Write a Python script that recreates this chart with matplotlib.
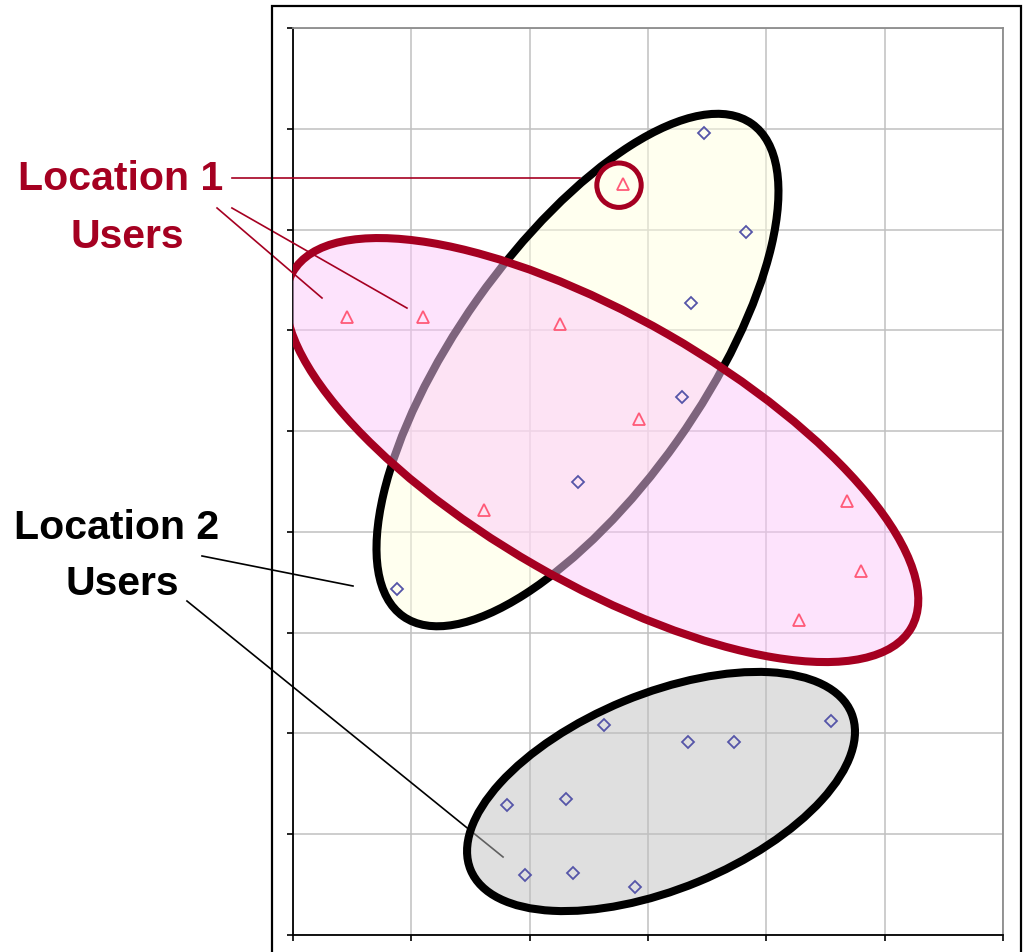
import numpy as np
import matplotlib
matplotlib.use("Agg")
import matplotlib.pyplot as plt
from matplotlib.patches import Ellipse, Rectangle
from matplotlib.transforms import Affine2D

# ── data ────────────────────────────────────────────────────────────────────
loc2_x = [3.47, 3.83, 3.36, 3.29, 2.41, 0.88, 2.63, 3.34, 3.73, 4.55, 1.81, 2.31, 1.96, 2.37, 2.89]
loc2_y = [7.96, 6.98, 6.27, 5.34, 4.50, 3.43, 2.08, 1.92, 1.92, 2.12, 1.29, 1.35, 0.60, 0.62, 0.48]

loc1_x = [2.79, 0.46, 1.10, 2.26, 2.92, 1.61, 4.68, 4.80, 4.28]
loc1_y = [7.45, 6.13, 6.13, 6.06, 5.12, 4.22, 4.31, 3.61, 3.13]

X_TICKS = list(range(0, 7))
Y_TICKS = list(range(0, 10))

# cluster ellipses: centre (data), width / height (x-units), angle (deg)
ell_centers = [(2.404, 5.606), (2.611, 4.812), (3.110, 1.424)]
ell_widths  = [5.10, 6.03, 3.48]
ell_heights = [2.07, 2.25, 1.65]
ell_angles  = [54.7, -29.9, 22.4]
ell_faces   = ["#ffffe0", "#fcc8fa", "#c0c0c0"]
ell_edges   = ["black", "#a50021", "black"]
ell_z       = [3, 4, 1.5]

hilite_center = (2.755, 7.44)
hilite_diam   = 0.375

RED   = "#a50021"
BLUE  = "#5555a8"
PINK  = "#ff5a78"
GRID  = "#c0c0c0"

W, H, DPI = 1023, 953, 100
fig = plt.figure(figsize=(W / DPI, H / DPI), dpi=DPI)
fig.patch.set_facecolor("white")

# outer chart frame (bottom runs off the image)
fig.patches.append(Rectangle((272 / W, -0.05), (1021 - 272) / W, 1 - 7 / H + 0.05,
                             transform=fig.transFigure, fill=False,
                             edgecolor="black", linewidth=1.6))

ax = fig.add_axes([293 / W, 1 - 936 / H, (1003 - 293) / W, (936 - 29) / H])
ax.set_xlim(0, 6)
ax.set_ylim(0, 9)
ax.set_xticks(X_TICKS)
ax.set_yticks(Y_TICKS)
ax.set_xticklabels([])
ax.set_yticklabels([])
ax.grid(True, color=GRID, linewidth=1.1, zorder=0)
ax.set_axisbelow(True)
ax.tick_params(direction="out", length=4.5, width=1.2, color="black")
for side in ("left", "bottom"):
    ax.spines[side].set_color("black")
    ax.spines[side].set_linewidth(1.3)
for side in ("top", "right"):
    ax.spines[side].set_color("#8c8c8c")
    ax.spines[side].set_linewidth(1.3)

# ── points ──────────────────────────────────────────────────────────────────
ax.plot(loc2_x, loc2_y, linestyle="none", marker="D", ms=6.3,
        mfc="none", mec=BLUE, mew=1.3, zorder=7)
ax.plot(loc1_x, loc1_y, linestyle="none", marker="^", ms=8.5,
        mfc="none", mec=PINK, mew=1.3, zorder=7)

# ── ellipses, drawn in a frame where x and y pixels are equal ──────────────
px_x = ax.get_position().width * W / 6
px_y = ax.get_position().height * H / 9
k = px_y / px_x
iso = Affine2D().scale(1, 1 / k) + ax.transData

for c, w, h, a, fc, ec, z in zip(ell_centers, ell_widths, ell_heights, ell_angles,
                                 ell_faces, ell_edges, ell_z):
    ax.add_patch(Ellipse((c[0], c[1] * k), w, h, angle=a, transform=iso,
                         facecolor=fc, alpha=0.5, edgecolor="none", zorder=z))
    ax.add_patch(Ellipse((c[0], c[1] * k), w, h, angle=a, transform=iso,
                         facecolor="none", edgecolor=ec, linewidth=5.8, zorder=z + 0.1))

ax.add_patch(Ellipse((hilite_center[0], hilite_center[1] * k), hilite_diam, hilite_diam,
                     transform=iso, facecolor="none", edgecolor=RED,
                     linewidth=3.6, zorder=5))

# ── callouts ────────────────────────────────────────────────────────────────
loc1_lines = [([-0.516, 2.425], [7.511, 7.511]),
              ([-0.642, 0.245], [7.214, 6.321]),
              ([-0.516, 0.963], [7.214, 6.221])]
loc2_lines = [([-0.769, 0.507], [3.761, 3.463]),
              ([-0.896, 1.775], [3.314, 0.774])]
for lx, ly in loc1_lines:
    ax.plot(lx, ly, color=RED, linewidth=1.2, clip_on=False, zorder=6)
for lx, ly in loc2_lines:
    ax.plot(lx, ly, color="black", linewidth=1.2, clip_on=False, zorder=1.2)

FONT = ["Liberation Sans", "DejaVu Sans"]
fs = 29.5
fig.text(121 / W, 1 - 190 / H, "Location 1", ha="center", va="baseline",
         fontsize=fs, fontweight="bold", color=RED, family=FONT)
fig.text(127 / W, 1 - 248 / H, "Users", ha="center", va="baseline",
         fontsize=fs, fontweight="bold", color=RED, family=FONT)
fig.text(117 / W, 1 - 539 / H, "Location 2", ha="center", va="baseline",
         fontsize=fs, fontweight="bold", color="black", family=FONT)
fig.text(122 / W, 1 - 595 / H, "Users", ha="center", va="baseline",
         fontsize=fs, fontweight="bold", color="black", family=FONT)

fig.savefig("out.png", dpi=DPI, facecolor=fig.get_facecolor())
plt.close(fig)
